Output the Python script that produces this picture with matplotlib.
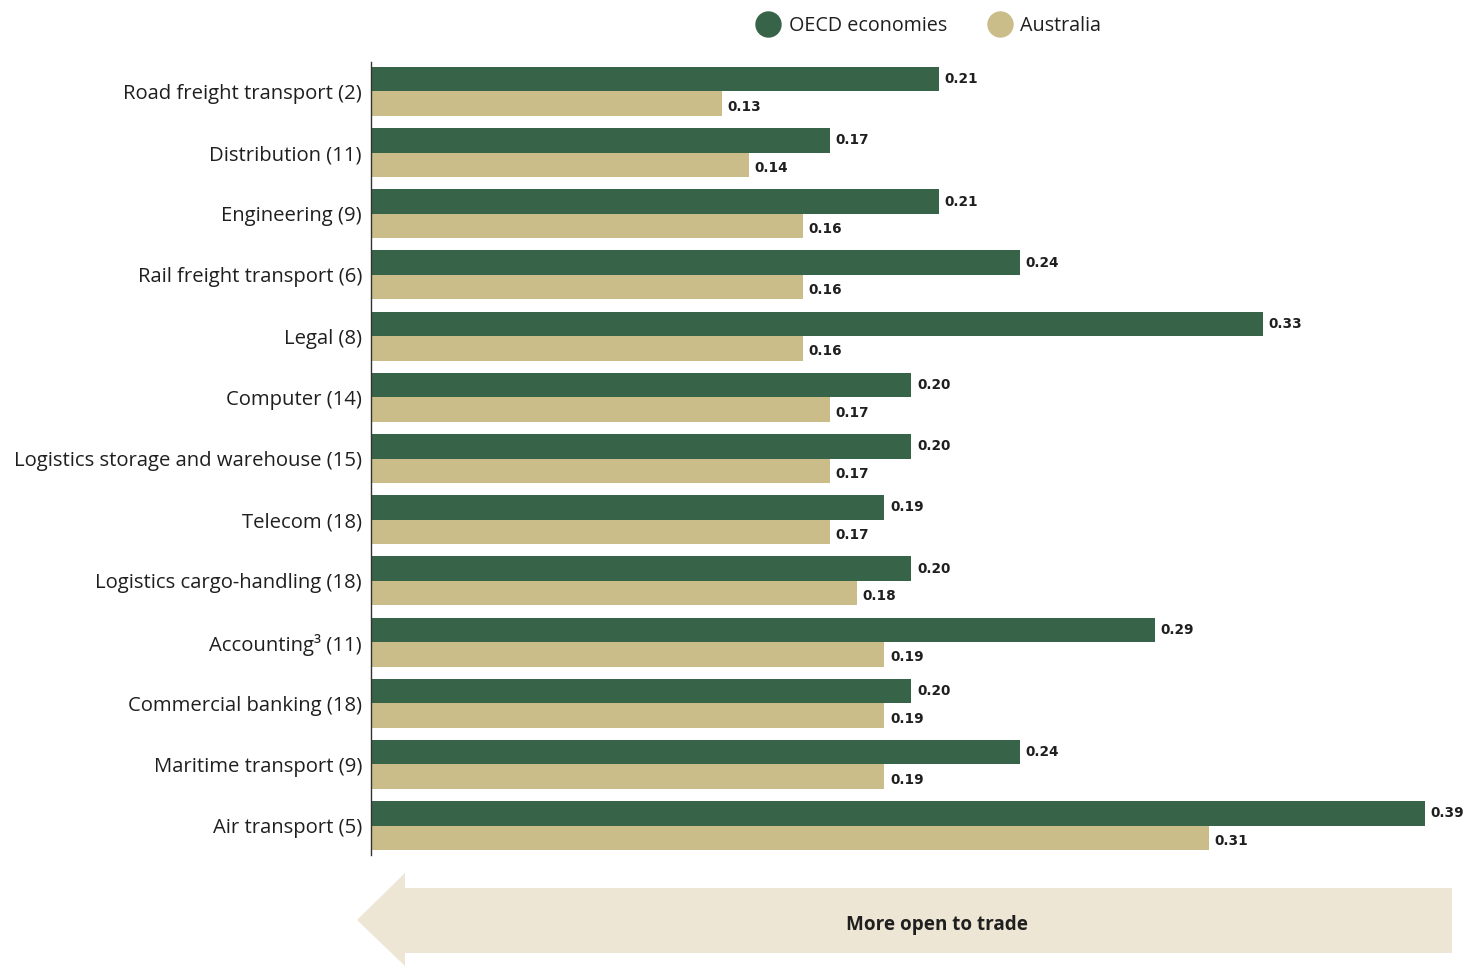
import matplotlib
matplotlib.use("Agg")
import matplotlib.pyplot as plt
from matplotlib.patches import Polygon
from matplotlib.lines import Line2D
import numpy as np

plt.rcParams['font.family'] = ['Open Sans', 'DejaVu Sans']

categories = [
    "Road freight transport (2)",
    "Distribution (11)",
    "Engineering (9)",
    "Rail freight transport (6)",
    "Legal (8)",
    "Computer (14)",
    "Logistics storage and warehouse (15)",
    "Telecom (18)",
    "Logistics cargo-handling (18)",
    "Accounting\u00b3 (11)",
    "Commercial banking (18)",
    "Maritime transport (9)",
    "Air transport (5)",
]
oecd = [0.21, 0.17, 0.21, 0.24, 0.33, 0.20, 0.20, 0.19, 0.20, 0.29, 0.20, 0.24, 0.39]
australia = [0.13, 0.14, 0.16, 0.16, 0.16, 0.17, 0.17, 0.17, 0.18, 0.19, 0.19, 0.19, 0.31]
series_names = ["OECD economies", "Australia"]

GREEN = "#376449"
TAN = "#CBBD8A"
ARROW = "#EDE6D4"
TEXT = "#1f1f1f"

W, H = 1467, 966
fig = plt.figure(figsize=(W / 100, H / 100), dpi=100)

# axes box in pixel terms
left, right, top, bottom = 371, 1452, 62, 855
ax = fig.add_axes([left / W, 1 - bottom / H, (right - left) / W, (bottom - top) / H])

y = np.arange(len(categories))
h = 0.4
ax.barh(y - h / 2, oecd, height=h, color=GREEN, zorder=2)
ax.barh(y + h / 2, australia, height=h, color=TAN, zorder=2)

ax.set_xlim(0, 0.40)
ax.set_ylim(12.48, -0.48)

value_font = dict(fontsize=9.8, fontweight="bold", color=TEXT, family="DejaVu Sans")
for i, (o, a) in enumerate(zip(oecd, australia)):
    ax.text(o + 0.002, i - h / 2, f"{o:.2f}", va="center", ha="left", **value_font)
    ax.text(a + 0.002, i + h / 2 + 0.05, f"{a:.2f}", va="center", ha="left", **value_font)

ax.set_yticks(y)
ax.set_yticklabels(categories, fontsize=14.6, color=TEXT)
ax.tick_params(axis="y", length=0, pad=6.5)
ax.set_xticks([])
for s in ["top", "right", "bottom"]:
    ax.spines[s].set_visible(False)
ax.spines["left"].set_color("#333333")
ax.spines["left"].set_linewidth(1.0)

# direction arrow under the bars
def px(xp, yp):
    return (xp / W, 1 - yp / H)

arrow_pts = [px(357, 920), px(405, 873), px(405, 888), px(1452, 888),
             px(1452, 953), px(405, 953), px(405, 966), px(357, 920)]
fig.add_artist(Polygon(arrow_pts, closed=True, transform=fig.transFigure,
                       facecolor=ARROW, edgecolor="none"))
fig.text(937 / W, 1 - 925 / H, "More open to trade", ha="center", va="center",
         fontsize=13.6, fontweight="bold", color=TEXT)

# legend
for xc, col, name, xt in [(768, GREEN, series_names[0], 789),
                          (1000, TAN, series_names[1], 1020)]:
    fig.add_artist(Line2D([xc / W], [1 - 24 / H], transform=fig.transFigure,
                          marker="o", markersize=18, color=col, linestyle="none"))
    fig.text(xt / W, 1 - 26 / H, name, ha="left", va="center",
             fontsize=14.2, color=TEXT)

fig.savefig("out.png", dpi=100, facecolor="white")
